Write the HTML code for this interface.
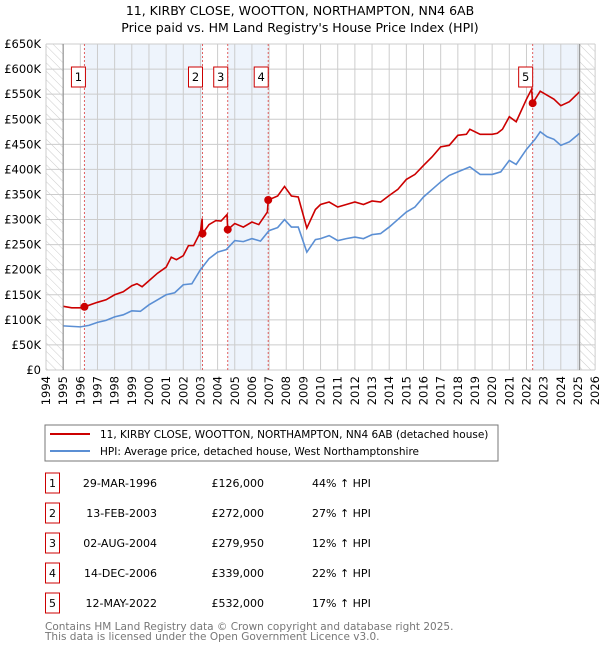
<!DOCTYPE html>
<html><head><meta charset="utf-8"><style>
body{margin:0;background:#fff;font-family:"DejaVu Sans","Liberation Sans",sans-serif;}
svg text{font-family:"DejaVu Sans","Liberation Sans",sans-serif;}
</style></head><body>
<svg id="chart" width="600" height="650" viewBox="0 0 600 650" xmlns="http://www.w3.org/2000/svg">
<defs><pattern id="hatch" width="6" height="6" patternUnits="userSpaceOnUse" patternTransform="rotate(-45)"><line x1="0" y1="0" x2="0" y2="6" stroke="#ccc" stroke-width="1"/></pattern></defs>
<text x="300" y="15" text-anchor="middle" font-size="12.5">11, KIRBY CLOSE, WOOTTON, NORTHAMPTON, NN4 6AB</text>
<text x="300" y="32" text-anchor="middle" font-size="12.5">Price paid vs. HM Land Registry's House Price Index (HPI)</text>
<g id="bg"></g><g id="grid"></g><g id="marks"></g><g id="axes"></g>
<rect x="45" y="425" width="453" height="36" fill="#fff" stroke="#777"/>
<line x1="50" y1="434" x2="90" y2="434" stroke="#cc0000" stroke-width="2"/>
<text x="100" y="438" font-size="10.5">11, KIRBY CLOSE, WOOTTON, NORTHAMPTON, NN4 6AB (detached house)</text>
<line x1="50" y1="451" x2="90" y2="451" stroke="#5b8fd4" stroke-width="2"/>
<text x="100" y="455" font-size="10.5">HPI: Average price, detached house, West Northamptonshire</text>
<g id="table"></g>
<text x="45" y="630" font-size="10.5" fill="#777">Contains HM Land Registry data © Crown copyright and database right 2025.</text>
<text x="45" y="640" font-size="10.5" fill="#777">This data is licensed under the Open Government Licence v3.0.</text>
</svg>
<script>
const yTicks=[0,50,100,150,200,250,300,350,400,450,500,550,600,650];
const yTickLabels=["£0","£50K","£100K","£150K","£200K","£250K","£300K","£350K","£400K","£450K","£500K","£550K","£600K","£650K"];
const xYears=[1994,1995,1996,1997,1998,1999,2000,2001,2002,2003,2004,2005,2006,2007,2008,2009,2010,2011,2012,2013,2014,2015,2016,2017,2018,2019,2020,2021,2022,2023,2024,2025,2026];
const saleDates=[1996.24,2003.12,2004.59,2006.95,2022.36];
const salePrices=[126,272,279.95,339,532];
const saleLabels=["1","2","3","4","5"];
const saleDateText=["29-MAR-1996","13-FEB-2003","02-AUG-2004","14-DEC-2006","12-MAY-2022"];
const salePriceText=["£126,000","£272,000","£279,950","£339,000","£532,000"];
const saleHpiText=["44% ↑ HPI","27% ↑ HPI","12% ↑ HPI","22% ↑ HPI","17% ↑ HPI"];
const redT=[1995.0,1995.5,1996.0,1996.24,1997.0,1997.5,1998.0,1998.5,1999.0,1999.3,1999.6,2000.0,2000.5,2001.0,2001.3,2001.6,2002.0,2002.3,2002.6,2003.0,2003.1,2003.12,2003.5,2003.9,2004.2,2004.55,2004.59,2005.0,2005.5,2006.0,2006.4,2006.9,2006.95,2007.5,2007.9,2008.3,2008.7,2009.2,2009.7,2010.0,2010.5,2011.0,2011.5,2012.0,2012.5,2013.0,2013.5,2014.0,2014.5,2015.0,2015.5,2016.0,2016.5,2017.0,2017.5,2018.0,2018.5,2018.7,2019.3,2020.0,2020.3,2020.6,2021.0,2021.4,2022.0,2022.3,2022.36,2022.8,2023.2,2023.6,2024.0,2024.5,2025.1];
const redV=[127,124,124,126,135,140,150,156,168,172,166,178,193,205,225,220,228,248,248,275,302,272,290,298,297,310,280,292,285,295,290,315,339,347,366,347,345,283,320,330,335,325,330,335,330,337,335,348,360,380,390,408,425,445,448,468,470,480,470,470,472,480,505,495,540,560,532,556,548,540,527,535,555];
const blueT=[1995.0,1995.5,1996.0,1996.5,1997.0,1997.5,1998.0,1998.5,1999.0,1999.5,2000.0,2000.5,2001.0,2001.5,2002.0,2002.5,2003.0,2003.5,2004.0,2004.5,2005.0,2005.5,2006.0,2006.5,2007.0,2007.5,2007.9,2008.3,2008.7,2009.2,2009.7,2010.0,2010.5,2011.0,2011.5,2012.0,2012.5,2013.0,2013.5,2014.0,2014.5,2015.0,2015.5,2016.0,2016.5,2017.0,2017.5,2018.0,2018.7,2019.3,2020.0,2020.5,2021.0,2021.4,2022.0,2022.5,2022.8,2023.2,2023.6,2024.0,2024.5,2025.1];
const blueV=[88,87,86,89,95,99,106,110,118,117,130,140,150,154,170,172,200,222,235,240,258,256,262,257,278,284,300,285,285,235,260,262,268,258,262,265,262,270,272,285,300,315,325,345,360,375,388,395,405,390,390,395,418,410,440,460,475,465,460,448,455,472];
const X=y=>46+(y-1994)*17.16, Y=v=>370-v*0.5015;
const NS="http://www.w3.org/2000/svg";
function mk(tag,attrs,parent,name){const e=document.createElementNS(NS,tag);for(const k in attrs)e.setAttribute(k,attrs[k]);


parent.appendChild(e);return e;}
const bg=document.getElementById('bg'),grid=document.getElementById('grid'),marks=document.getElementById('marks'),axes=document.getElementById('axes'),table=document.getElementById('table');
const yTop=Y(650),yBot=Y(0);
mk('rect',{x:X(1994),y:yTop,width:X(1995)-X(1994),height:yBot-yTop,fill:'url(#hatch)'},bg,'hatch-before-data');
mk('rect',{x:X(2025.1),y:yTop,width:X(2026)-X(2025.1),height:yBot-yTop,fill:'url(#hatch)'},bg,'hatch-after-data');
[[0,1],[2,3],[4,-1]].forEach(p=>{const a=X(saleDates[p[0]]),b=p[1]<0?X(2025.1):X(saleDates[p[1]]);
mk('rect',{x:a,y:yTop,width:b-a,height:yBot-yTop,fill:'#eef4fc'},bg,'ownership-band');});
xYears.forEach(y=>{mk('line',{x1:X(y),x2:X(y),y1:yTop,y2:yBot,stroke:'#ccc'},grid,'x-gridline');
const t=mk('text',{x:X(y)+4,y:yBot+6,'font-size':11.5,transform:`rotate(-90 ${X(y)+4} ${yBot+6})`,'text-anchor':'end'},axes,'x-tick-label');t.textContent=y;});
yTicks.forEach((v,i)=>{mk('line',{x1:X(1994),x2:X(2026),y1:Y(v),y2:Y(v),stroke:'#ccc'},grid,'y-gridline');
const t=mk('text',{x:41,y:Y(v)+4,'font-size':11.5,'text-anchor':'end'},axes,'y-tick-label');t.textContent=yTickLabels[i];});
mk('line',{x1:X(1995),x2:X(1995),y1:yTop,y2:yBot,stroke:'#888'},axes,'data-start-line');
mk('line',{x1:X(2025.1),x2:X(2025.1),y1:yTop,y2:yBot,stroke:'#888'},axes,'data-end-line');
saleDates.forEach((d,i)=>{mk('line',{x1:X(d),x2:X(d),y1:yTop,y2:yBot,stroke:'#e06060','stroke-dasharray':'2,2'},marks,'sale-vline');});
mk('polyline',{points:blueT.map((t,i)=>X(t)+','+Y(blueV[i])).join(' '),fill:'none',stroke:'#5b8fd4','stroke-width':1.6},marks,'hpi-line');
mk('polyline',{points:redT.map((t,i)=>X(t)+','+Y(redV[i])).join(' '),fill:'none',stroke:'#cc0000','stroke-width':1.6},marks,'property-line');
saleDates.forEach((d,i)=>{mk('circle',{cx:X(d),cy:Y(salePrices[i]),r:4,fill:'#cc0000'},marks,'sale-marker');
const lx=i==0?X(d)-6:X(d)-7;
mk('rect',{x:lx-7,y:67,width:14,height:20,fill:'#fff',stroke:'#cc0000'},marks,'sale-label-box');
const t=mk('text',{x:lx,y:81,'font-size':11.5,'text-anchor':'middle'},marks,'sale-label');t.textContent=saleLabels[i];});
saleLabels.forEach((l,i)=>{const cy=483+i*30;
mk('rect',{x:45.5,y:cy-10,width:14,height:20,fill:'#fff',stroke:'#cc0000'},table,'row-number-box');
let t=mk('text',{x:52.5,y:cy+4,'font-size':11,'text-anchor':'middle'},table,'row-number');t.textContent=l;
t=mk('text',{x:157,y:cy+4,'font-size':11,'text-anchor':'end'},table,'row-date');t.textContent=saleDateText[i];
t=mk('text',{x:264,y:cy+4,'font-size':11,'text-anchor':'end'},table,'row-price');t.textContent=salePriceText[i];
t=mk('text',{x:312,y:cy+4,'font-size':11},table,'row-hpi');t.textContent=saleHpiText[i];});
</script>
</body></html>
